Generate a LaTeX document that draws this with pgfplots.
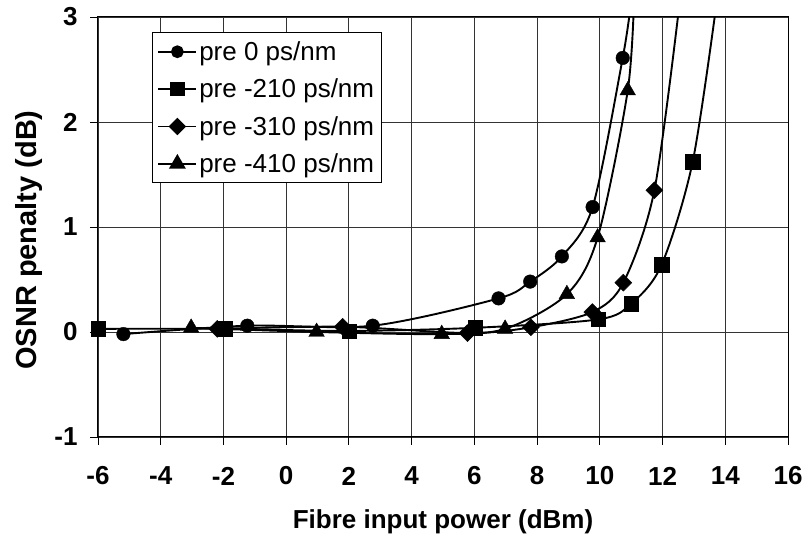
\documentclass[border=0pt]{standalone}
\usepackage{pgfplots}
\pgfplotsset{compat=1.18}
\usepackage{fontspec}
\setmainfont{Liberation Sans}

\pgfplotstableread{
x y
-5.19 -0.02
-1.24 0.06
2.76 0.06
6.77 0.32
7.78 0.48
8.79 0.72
9.77 1.19
10.73 2.61
}\tzero
\pgfplotstableread{
x y
-5.19 -0.02
-1.24 0.06
2.76 0.06
6.77 0.32
7.78 0.48
8.79 0.72
9.77 1.19
10.73 2.61
11.00 3.15
}\tzeroL
\pgfplotstableread{
x y
-6.00 0.03
-1.95 0.03
2.00 0.01
6.02 0.04
9.95 0.12
11.00 0.27
11.97 0.64
12.96 1.62
}\ttwo
\pgfplotstableread{
x y
-6.00 0.03
-1.95 0.03
2.00 0.01
6.02 0.04
9.95 0.12
11.00 0.27
11.97 0.64
12.96 1.62
13.73 3.15
}\ttwoL
\pgfplotstableread{
x y
-2.20 0.03
1.80 0.05
5.78 -0.01
7.80 0.045
9.76 0.19
10.75 0.47
11.74 1.35
}\tthree
\pgfplotstableread{
x y
-2.20 0.03
1.80 0.05
5.78 -0.01
7.80 0.045
9.76 0.19
10.75 0.47
11.74 1.35
12.55 3.15
}\tthreeL
\pgfplotstableread{
x y
-3.03 0.04
0.97 0.00
4.96 -0.02
6.98 0.03
8.95 0.36
9.93 0.90
10.89 2.30
}\tfour
\pgfplotstableread{
x y
-3.03 0.04
0.97 0.00
4.96 -0.02
6.98 0.03
8.95 0.36
9.93 0.90
10.89 2.30
11.10 3.25
}\tfourL

\begin{document}
\begin{tikzpicture}
\begin{axis}[
  name=ax,
  scale only axis,
  width=690pt, height=420pt,
  xmin=-6, xmax=16, ymin=-1, ymax=3,
  xtick={-6,-4,...,16},
  xticklabels={-6,-4,-2,0,2,4,6,8,10,12,14,16},
  ytick={-1,0,1,2,3},
  yticklabels={-1,0,1,2,3},
  grid=major,
  grid style={black!80, line width=0.9pt},
  axis line style={black, line width=1pt},
  tick align=outside,
  xtick pos=bottom, ytick pos=left,
  major tick length=8pt,
  tick style={black, line width=0.9pt},
  tick label style={font=\fontsize{26}{26}\selectfont\bfseries},
  xticklabel style={anchor=center, yshift=-31pt},
  yticklabel style={anchor=east, xshift=-9pt},
  xlabel={Fibre input power (dBm)},
  ylabel={OSNR penalty (dB)},
  xlabel style={font=\fontsize{26}{26}\selectfont\bfseries, at={(axis description cs:0.5,-0.2024)}, anchor=center},
  ylabel style={font=\fontsize{29}{29}\selectfont\bfseries, at={(axis description cs:-0.1,0.469)}, anchor=center},
  legend cell align=left,
  legend style={at={(rel axis cs:0.0783,0.964)}, anchor=north west, draw=black, line width=0.9pt, fill=white,
    font=\fontsize{26}{26}\selectfont, /tikz/row sep=13pt, inner xsep=5pt, inner ysep=7pt},
  legend image code/.code={\draw[mark repeat=2,mark phase=2,#1] plot coordinates {(0pt,0pt) (19pt,0pt) (38pt,0pt)};},
]
\addlegendimage{black, line width=1.8pt, mark=*, mark size=5.5pt}
\addlegendentry{pre 0 ps/nm}
\addlegendimage{black, line width=1.8pt, mark=square*, mark size=6.5pt}
\addlegendentry{pre -210 ps/nm}
\addlegendimage{black, line width=1.8pt, mark=square*, mark size=5.3pt, mark options={rotate=45}}
\addlegendentry{pre -310 ps/nm}
\addlegendimage{black, line width=1.8pt, mark=triangle*, mark size=8pt}
\addlegendentry{pre -410 ps/nm}

\addplot[black, line width=1.9pt, smooth, forget plot] table[x=x,y=y] {\tzeroL};
\addplot[black, line width=1.9pt, smooth, forget plot] table[x=x,y=y] {\ttwoL};
\addplot[black, line width=1.9pt, smooth, forget plot] table[x=x,y=y] {\tthreeL};
\addplot[black, line width=1.9pt, smooth, forget plot] table[x=x,y=y] {\tfourL};

\addplot[only marks, mark=*, mark size=6.8pt, black, forget plot] table[x=x,y=y] {\tzero};
\addplot[only marks, mark=square*, mark size=7.2pt, black, forget plot] table[x=x,y=y] {\ttwo};
\addplot[only marks, mark=square*, mark size=6pt, mark options={rotate=45}, black, forget plot] table[x=x,y=y] {\tthree};
\addplot[only marks, mark=triangle*, mark size=9pt, black, forget plot] table[x=x,y=y] {\tfour};
\end{axis}
\pgfresetboundingbox
\path[use as bounding box] ([shift={(-98pt,-103pt)}]ax.south west) rectangle ([shift={(15pt,17pt)}]ax.north east);
\end{tikzpicture}
\end{document}
